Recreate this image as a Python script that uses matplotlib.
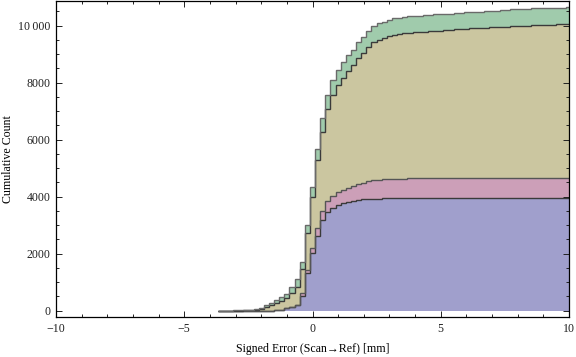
import matplotlib.pyplot as plt
import matplotlib.ticker as mticker
import numpy as np

# histogram bins: width 0.2 mm, first bin starts at -3.7 mm
BIN_START = -3.7
BIN_WIDTH = 0.2

# cumulative counts per data set, one value per bin
BLUE = [
    0, 0, 0, 0, 0, 0, 0, 0, 0, 2,
    5, 13, 25, 83, 141, 200, 527, 1310, 2011, 2631,
    3180, 3472, 3615, 3690, 3764, 3795, 3850, 3875, 3900, 3912,
    3925, 3932, 3936, 3939, 3941, 3942, 3943, 3944, 3944, 3945,
    3945, 3946, 3946, 3946, 3947, 3947, 3947, 3948, 3948, 3948,
    3949, 3949, 3949, 3949, 3950, 3950, 3950, 3950, 3951, 3951,
    3951, 3951, 3952, 3952, 3952, 3952, 3953, 3953, 3953,
]
PINK = [
    0, 0, 0, 0, 0, 0, 0, 0, 0, 0,
    0, 0, 0, 0, 2, 10, 82, 117, 176, 257,
    316, 386, 418, 460, 470, 505, 530, 570, 595, 625,
    648, 662, 672, 680, 686, 689, 692, 694, 695, 696,
    697, 698, 698, 699, 699, 700, 700, 700, 701, 701,
    701, 702, 702, 702, 702, 703, 703, 703, 703, 704,
    704, 704, 704, 704, 705, 705, 705, 705, 705,
]
KHAKI = [
    1, 2, 2, 4, 6, 8, 12, 13, 48, 116,
    183, 269, 327, 351, 466, 633, 841, 1285, 1788, 2396,
    2780, 3202, 3530, 3750, 3931, 4110, 4220, 4405, 4545, 4713,
    4847, 4916, 4957, 5011, 5053, 5074, 5090, 5107, 5121, 5131,
    5140, 5151, 5174, 5180, 5189, 5198, 5219, 5227, 5236, 5251,
    5255, 5261, 5269, 5285, 5293, 5299, 5307, 5329, 5332, 5335,
    5340, 5362, 5364, 5369, 5373, 5378, 5382, 5387, 5394,
]
GREEN = [
    1, 1, 2, 4, 6, 7, 8, 35, 47, 70,
    94, 110, 118, 152, 210, 257, 269, 281, 374, 385,
    470, 505, 525, 535, 545, 550, 555, 558, 560, 562,
    564, 566, 567, 568, 569, 570, 571, 572, 572, 573,
    573, 574, 574, 575, 575, 576, 576, 577, 577, 578,
    578, 579, 579, 579, 580, 580, 580, 581, 581, 582,
    582, 582, 583, 583, 583, 584, 584, 584, 585,
]

LAYERS = [BLUE, PINK, KHAKI, GREEN]
COLORS = ['#a09fcc', '#cc9fb8', '#cbc6a0', '#a0cbac']
EDGE_COLORS = ['#3a3a3a', '#555555', '#3a3a3a', '#6a6a6a']

Y_TICKS = [0, 2000, 4000, 6000, 8000, 10000]
Y_TICK_LABELS = ['0', '2000', '4000', '6000', '8000', '10\u2009000']
X_TICKS = [-10, -5, 0, 5, 10]
X_TICK_LABELS = ['\u221210', '\u22125', '0', '5', '10']

plt.rcParams['font.family'] = ['Liberation Serif', 'DejaVu Serif']

fig = plt.figure(figsize=(5.76, 3.57), dpi=100)
ax = fig.add_axes([56 / 576, 1 - 317 / 357, 513 / 576, 316 / 357])

edges = BIN_START + BIN_WIDTH * np.arange(len(BLUE) + 1)
stacked = np.cumsum(np.array(LAYERS, dtype=float), axis=0)

bottom = np.zeros(len(BLUE))
for top, color in zip(stacked, COLORS):
    ax.stairs(top, edges, baseline=bottom, fill=True, color=color, lw=0)
    bottom = top

for top, ecolor in zip(stacked, EDGE_COLORS):
    ax.stairs(top, edges, baseline=None, color=ecolor, lw=1.0)

ax.set_xlim(-10, 10)
ax.set_ylim(-220, 10860)

ax.xaxis.set_major_locator(mticker.FixedLocator(X_TICKS))
ax.xaxis.set_minor_locator(mticker.MultipleLocator(1))
ax.yaxis.set_major_locator(mticker.FixedLocator(Y_TICKS))
ax.yaxis.set_minor_locator(mticker.MultipleLocator(500))
ax.set_xticklabels(X_TICK_LABELS)
ax.set_yticklabels(Y_TICK_LABELS)

ax.tick_params(which='both', direction='in', top=True, right=True,
               labelsize=8.6, colors='#222222', width=0.7)
ax.tick_params(which='major', length=4.0, pad=4)
ax.tick_params(which='minor', length=2.2)
for spine in ax.spines.values():
    spine.set_linewidth(0.9)

ax.set_xlabel('Signed Error (Scan\u2192Ref) [mm]', fontsize=8.6)
ax.set_ylabel('Cumulative Count', fontsize=8.6, va='center')
ax.xaxis.set_label_coords(0.5, -0.082)
ax.yaxis.set_label_coords(-0.093, 0.5)

fig.savefig('out.png', dpi=100)
